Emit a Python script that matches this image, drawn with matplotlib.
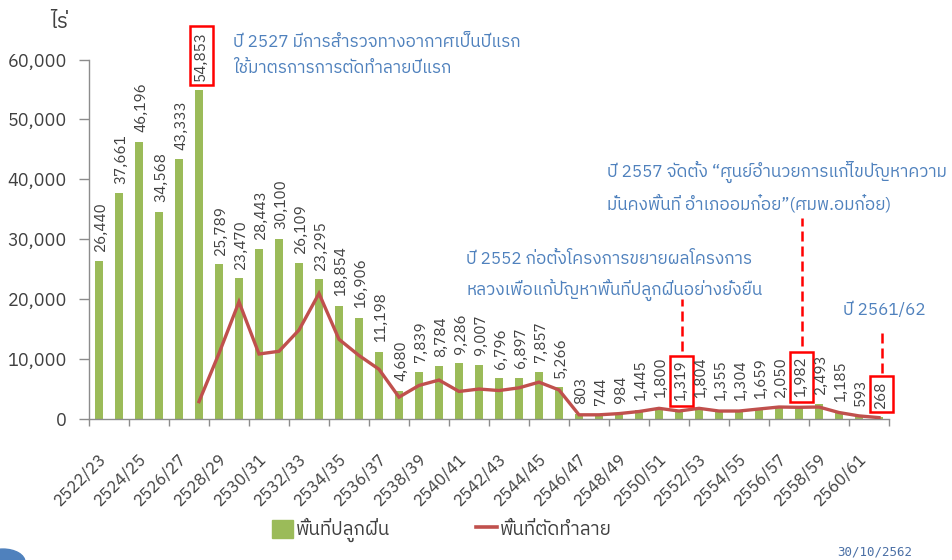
import numpy as np
import matplotlib
matplotlib.use("Agg")
import matplotlib.pyplot as plt
from matplotlib import font_manager
from matplotlib.ft2font import FT2Font
from matplotlib.patches import Patch, Circle
from matplotlib.lines import Line2D
from matplotlib.ticker import FuncFormatter, FixedLocator

# ------------------------------------------------------
# data
# ------------------------------------------------------
years = [f"{y}/{(y + 1) % 100:02d}" for y in range(2522, 2562)]
planted = [26440, 37661, 46196, 34568, 43333, 54853, 25789, 23470, 28443, 30100,
           26109, 23295, 18854, 16906, 11198, 4680, 7839, 8784, 9286, 9007,
           6796, 6897, 7857, 5266, 803, 744, 984, 1445, 1800, 1319,
           1804, 1355, 1304, 1659, 2050, 1982, 2493, 1185, 593, 268]
# destroyed area starts in 2527/28 (estimated from the line)
destroyed = [np.nan] * 5 + [2900, 10950, 19550, 10850, 11300, 14850, 20950, 13300, 10600, 8300,
                            3650, 5600, 6500, 4600, 5000, 4750, 5200, 6150, 4850, 700,
                            700, 900, 1250, 1780, 1330, 1780, 1330, 1330, 1670, 2000,
                            1950, 2000, 1080, 520, 230]
boxed = [5, 29, 35, 39]
legend_labels = ["พื้นที่ปลูกฝิ่น", "พื้นที่ตัดทำลาย"]
notes = [
    ("ปี 2527 มีการสำรวจทางอากาศเป็นปีแรก\nใช้มาตรการการตัดทำลายปีแรก", 233, 55),
    ("ปี 2557 จัดตั้ง “ศูนย์อำนวยการแก้ไขปัญหาความ\nมั่นคงพื้นที่ อำเภออมก๋อย”(ศมพ.อมก๋อย)", 607, 187),
    ("ปี 2552 ก่อตั้งโครงการขยายผลโครงการ\nหลวงเพื่อแก้ปัญหาพื้นที่ปลูกฝิ่นอย่างยั่งยืน", 466, 276),
    ("ปี 2561/62", 843, 310),
]
# dashed leader lines: bar index, top value, bottom value
leaders = [(29, 20000, 11300), (35, 33600, 12200), (39, 14300, 7600)]

GREEN = "#9BBB59"
RED = "#C0504D"
BLUE = "#4F81BD"
GREY = "#404040"


# ------------------------------------------------------
# look for any installed font that has Thai glyphs
# ------------------------------------------------------
def find_thai_font():
    best = None
    for p in sorted(font_manager.findSystemFonts()):
        try:
            f = FT2Font(p)
            cmap = f.get_charmap()
        except Exception:
            continue
        if 0x0E01 not in cmap or 0x0E34 not in cmap:
            continue
        score = 0
        style = (f.style_name or "").lower()
        if style in ("regular", "book", "normal"):
            score += 2
        if "sans" in f.family_name.lower() or "tahoma" in f.family_name.lower():
            score += 1
        if best is None or score > best[0]:
            best = (score, p)
    if best is None:
        return None
    font_manager.fontManager.addfont(best[1])
    return font_manager.FontProperties(fname=best[1]).get_name()


thai = find_thai_font()
families = [thai, "DejaVu Sans"] if thai else ["DejaVu Sans"]
plt.rcParams["font.family"] = families

fig = plt.figure(figsize=(9.52, 5.6), dpi=100)
W, H = 952, 560
ax = fig.add_axes([89 / W, 1 - 419 / H, 800 / W, 359.5 / H])

x = np.arange(len(years))
ax.bar(x, planted, width=0.42, color=GREEN, zorder=2)
ax.plot(x, destroyed, color=RED, lw=2.4, zorder=3, solid_joinstyle="miter")

for i, v in enumerate(planted):
    box = None
    if i in boxed:
        box = dict(boxstyle="square,pad=0.3", fc="none", ec="red", lw=1.8)
    ax.annotate(f"{v:,}", (i, v), xytext=(1.5, 7), textcoords="offset points",
                rotation=90, ha="center", va="bottom", fontsize=11,
                color=GREY, bbox=box, zorder=4)

for i, top, bottom in leaders:
    ax.plot([i + 0.15, i + 0.15], [bottom, top], color="red", lw=1.8,
            ls=(0, (4, 2)), zorder=4, clip_on=False)

ax.set_xlim(-0.5, len(years) - 0.5)
ax.set_ylim(0, 60000)
ax.yaxis.set_major_locator(FixedLocator(range(0, 60001, 10000)))
ax.yaxis.set_major_formatter(FuncFormatter(lambda v, p: f"{int(v):,}"))
ax.tick_params(axis="y", direction="out", length=7, width=1, color="#8C8C8C",
               labelsize=13, labelcolor=GREY, pad=9)

# year labels sit just right of their bar, so the (invisible) label ticks
# are put on the right-hand category edge
ax.set_xticks(x[::2] + 0.5)
ax.set_xticklabels(years[::2], rotation=45, ha="right", va="top",
                   fontsize=12, color=GREY)
ax.set_xticks(np.arange(-0.5, len(years)), minor=True)
ax.tick_params(axis="x", which="major", length=0, pad=23)
ax.tick_params(axis="x", which="minor", direction="out", length=5, width=1,
               color="#8C8C8C")

for s in ("top", "right"):
    ax.spines[s].set_visible(False)
for s in ("left", "bottom"):
    ax.spines[s].set_color("#8C8C8C")
    ax.spines[s].set_linewidth(1)

# unit label
fig.text(50 / W, 1 - 22 / H, "ไร่", fontsize=15, color=GREY, va="center")

# blue notes (placed in pixel positions of the slide)
for txt, px, py in notes:
    fig.text(px / W, 1 - py / H, txt, fontsize=12.3, color=BLUE, va="center",
             ha="left", linespacing=1.7)

handles = [Patch(color=GREEN), Line2D([], [], color=RED, lw=2.6)]
fig.legend(handles, legend_labels, loc="center", bbox_to_anchor=(442 / W, 1 - 530 / H),
           ncol=2, frameon=False, fontsize=13.5, handlelength=1.1, handleheight=1.1,
           handletextpad=0.15, columnspacing=4.6, labelcolor=GREY)

fig.add_artist(Circle((3 / W, 1 - 562 / H), 22 / W, transform=fig.transFigure,
                      color=BLUE, clip_on=False))
fig.text(875 / W, 1 - 552 / H, "30/10/2562", fontsize=9, color="#4A6FA5",
         family="DejaVu Sans Mono", ha="center", va="center")

fig.savefig("out.png", dpi=100)
